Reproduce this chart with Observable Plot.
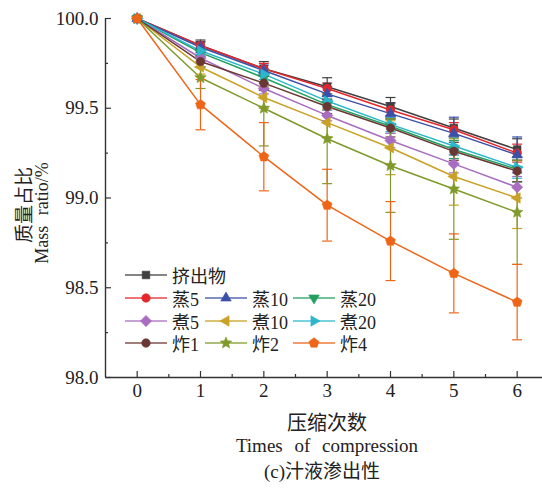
<!DOCTYPE html>
<html><head><meta charset="utf-8">
<script src="https://cdn.jsdelivr.net/npm/d3@7"></script>
<script src="https://cdn.jsdelivr.net/npm/@observablehq/plot@0.6"></script>
<style>
body{margin:0;background:#fff;}
#wrap{position:relative;width:542px;height:490px;font-family:"Liberation Serif","Noto Sans CJK SC",serif;color:#222;overflow:hidden;}
.ov{position:absolute;white-space:nowrap;}
.leg{position:absolute;display:flex;align-items:center;height:22px;font-size:18px;}
.leg span{margin-left:5px;}
</style></head><body><div id="wrap"></div>
<script>
const times = [0, 1, 2, 3, 4, 5, 6];
const seriesNames = ["挤出物", "蒸5", "蒸10", "蒸20", "煮5", "煮10", "煮20", "炸1", "炸2", "炸4"];
const extrude = [100, 99.85, 99.72, 99.62, 99.51, 99.39, 99.27];
const steam5 = [100, 99.85, 99.72, 99.61, 99.49, 99.38, 99.25];
const steam10 = [100, 99.84, 99.71, 99.58, 99.47, 99.36, 99.24];
const steam20 = [100, 99.81, 99.67, 99.52, 99.40, 99.27, 99.16];
const boil5 = [100, 99.78, 99.61, 99.46, 99.32, 99.19, 99.06];
const boil10 = [100, 99.73, 99.56, 99.42, 99.28, 99.12, 99.00];
const boil20 = [100, 99.82, 99.69, 99.54, 99.41, 99.29, 99.17];
const fry1 = [100, 99.76, 99.64, 99.51, 99.39, 99.26, 99.15];
const fry2 = [100, 99.67, 99.50, 99.33, 99.18, 99.05, 98.92];
const fry4 = [100, 99.52, 99.23, 98.96, 98.76, 98.58, 98.42];
const extrudeErr = [0, 0.03, 0.04, 0.05, 0.05, 0.05, 0.06];
const steam5Err = [0, 0.02, 0.03, 0.03, 0.04, 0.04, 0.05];
const steam10Err = [0, 0.03, 0.03, 0.04, 0.06, 0.09, 0.10];
const steam20Err = [0, 0.02, 0.03, 0.03, 0.04, 0.05, 0.07];
const boil5Err = [0, 0.02, 0.03, 0.03, 0.04, 0.05, 0.06];
const boil10Err = [0, 0.04, 0.06, 0.08, 0.15, 0.16, 0.17];
const boil20Err = [0, 0.02, 0.03, 0.03, 0.04, 0.05, 0.06];
const fry1Err = [0, 0.03, 0.04, 0.04, 0.05, 0.05, 0.06];
const fry2Err = [0, 0.06, 0.21, 0.25, 0.26, 0.28, 0.29];
const fry4Err = [0, 0.14, 0.19, 0.20, 0.22, 0.22, 0.21];
const colors = ["#404040", "#e5262b", "#3c50a8", "#22a060", "#a86dc0", "#c9a225", "#2cb7cc", "#6b3732", "#7f9a2b", "#ee6518"];
const yTicks = [98.0, 98.5, 99.0, 99.5, 100.0];
const yMinor = [98.25, 98.75, 99.25, 99.75];
const xMinor = [0.5, 1.5, 2.5, 3.5, 4.5, 5.5];
const xDomain = [-0.5, 6.4];
const yDomain = [98, 100];

const valuesList = [extrude, steam5, steam10, steam20, boil5, boil10, boil20, fry1, fry2, fry4];
const errList = [extrudeErr, steam5Err, steam10Err, steam20Err, boil5Err, boil10Err, boil20Err, fry1Err, fry2Err, fry4Err];
const SERIF = '"Liberation Serif","DejaVu Serif","Noto Sans CJK SC",serif';

function poly(n, rot, k) {
  return {draw(ctx, size) {
    const R = Math.sqrt(size / Math.PI) * k;
    for (let i = 0; i < n; i++) {
      const a = rot + i * 2 * Math.PI / n;
      const x = R * Math.sin(a), y = -R * Math.cos(a);
      i ? ctx.lineTo(x, y) : ctx.moveTo(x, y);
    }
    ctx.closePath();
  }};
}
const star = {draw(ctx, size) {
  const R = Math.sqrt(size / Math.PI) * 1.35, r = R * 0.45;
  for (let i = 0; i < 10; i++) {
    const a = i * Math.PI / 5, rr = i % 2 ? r : R;
    const x = rr * Math.sin(a), y = -rr * Math.cos(a);
    i ? ctx.lineTo(x, y) : ctx.moveTo(x, y);
  }
  ctx.closePath();
}};
const circle = {draw(ctx, size) { const R = Math.sqrt(size / Math.PI) * 0.95; ctx.moveTo(R, 0); ctx.arc(0, 0, R, 0, 2 * Math.PI); }};
const cap = {draw(ctx, size) { const r = Math.sqrt(size / Math.PI); ctx.moveTo(-r, 0); ctx.lineTo(r, 0); }};
const symbols = [poly(4, Math.PI / 4, 1.2), circle, poly(3, 0, 1.35), poly(3, Math.PI, 1.35), poly(4, 0, 1.25),
  poly(3, -Math.PI / 2, 1.35), poly(3, Math.PI / 2, 1.35), circle, star, poly(5, 0, 1.15)];

const series = seriesNames.map((name, k) => ({
  name, color: colors[k], symbol: symbols[k],
  data: times.map((t, i) => ({t, v: valuesList[k][i], e: errList[k][i]}))
}));

const marks = [];
series.forEach(s => {
  marks.push(Plot.line(s.data, {x: "t", y: "v", stroke: s.color, strokeWidth: 1.5}));
});
series.forEach(s => {
  const eb = s.data.filter(d => d.e > 0);
  marks.push(Plot.ruleX(eb, {x: "t", y1: d => d.v - d.e, y2: d => d.v + d.e, stroke: s.color, strokeWidth: 1.2}));
  marks.push(Plot.dot(eb, {x: "t", y: d => d.v + d.e, symbol: cap, r: 5, stroke: s.color, fill: "none", strokeWidth: 1.2}));
  marks.push(Plot.dot(eb, {x: "t", y: d => d.v - d.e, symbol: cap, r: 5, stroke: s.color, fill: "none", strokeWidth: 1.2}));
});
series.forEach(s => {
  marks.push(Plot.dot(s.data, {x: "t", y: "v", symbol: s.symbol, r: 4.5, fill: s.color, stroke: s.color, strokeWidth: 0.6}));
});

const chart = Plot.plot({
  width: 542, height: 405,
  marginLeft: 105, marginRight: 0, marginTop: 18, marginBottom: 28,
  x: {domain: xDomain},
  y: {domain: yDomain},
  style: {fontFamily: SERIF, fontSize: "19px", color: "#333", background: "white", overflow: "visible"},
  marks: [
    ...marks,
    Plot.ruleX([xDomain[0]], {stroke: "#333", strokeWidth: 1.4}),
    Plot.ruleY([yDomain[0]], {stroke: "#333", strokeWidth: 1.4}),
    Plot.axisY({ticks: yTicks, tickFormat: d => d.toFixed(1), tickSize: 0, tickPadding: 7, label: null, fill: "#222", fontFamily: SERIF, fontSize: 19}),
    Plot.axisY({ticks: yTicks, tickSize: -6, text: null, label: null, strokeWidth: 1.2}),
    Plot.axisY({ticks: yMinor, tickSize: -3, text: null, label: null, strokeWidth: 1.2}),
    Plot.axisX({ticks: times, tickFormat: d => String(d), tickSize: 0, tickPadding: 6, label: null, fill: "#222", fontFamily: SERIF, fontSize: 19}),
    Plot.axisX({ticks: times, tickSize: -6, text: null, label: null, strokeWidth: 1.2}),
    Plot.axisX({ticks: xMinor, tickSize: -3, text: null, label: null, strokeWidth: 1.2})
  ]
});
const wrap = document.getElementById("wrap");
wrap.appendChild(chart);

function ov(text, css) {
  const d = document.createElement("div");
  d.className = "ov"; d.textContent = text; d.style.cssText += css;
  wrap.appendChild(d);
}
ov("质量占比", "left:22px;top:205px;font-size:19px;transform:translate(-50%,-50%) rotate(-90deg);");
ov("Mass ratio/%", "left:42px;top:213px;font-size:18px;word-spacing:6px;transform:translate(-50%,-50%) rotate(-90deg);");
ov("压缩次数", "left:327px;top:421px;font-size:20px;transform:translate(-50%,-50%);");
ov("Times of compression", "left:327px;top:446px;font-size:19px;word-spacing:7px;transform:translate(-50%,-50%);");
ov("(c)汁液渗出性", "left:322px;top:469px;font-size:19px;transform:translate(-50%,-50%);");

// legend
const legRows = [[0], [1, 2, 3], [4, 5, 6], [7, 8, 9]];
const legColX = [125, 205, 293];
const legRowY = [275, 298, 321, 343];
legRows.forEach((row, ri) => row.forEach((k, ci) => {
  const s = series[k];
  const d = document.createElement("div");
  d.className = "leg";
  d.style.left = legColX[ci] + "px";
  d.style.top = (legRowY[ri] - 11) + "px";
  const svg = d3.create("svg").attr("width", 42).attr("height", 16);
  svg.append("line").attr("x1", 0).attr("x2", 42).attr("y1", 8).attr("y2", 8).attr("stroke", s.color).attr("stroke-width", 1.5).attr("opacity", 0.85);
  svg.append("path").attr("transform", "translate(21,8)").attr("d", d3.symbol(s.symbol, 4.5 * 4.5 * Math.PI)()).attr("fill", s.color).attr("stroke", s.color).attr("stroke-width", 0.6);
  d.appendChild(svg.node());
  const sp = document.createElement("span");
  sp.textContent = s.name;
  d.appendChild(sp);
  wrap.appendChild(d);
}));
</script>
</body></html>
